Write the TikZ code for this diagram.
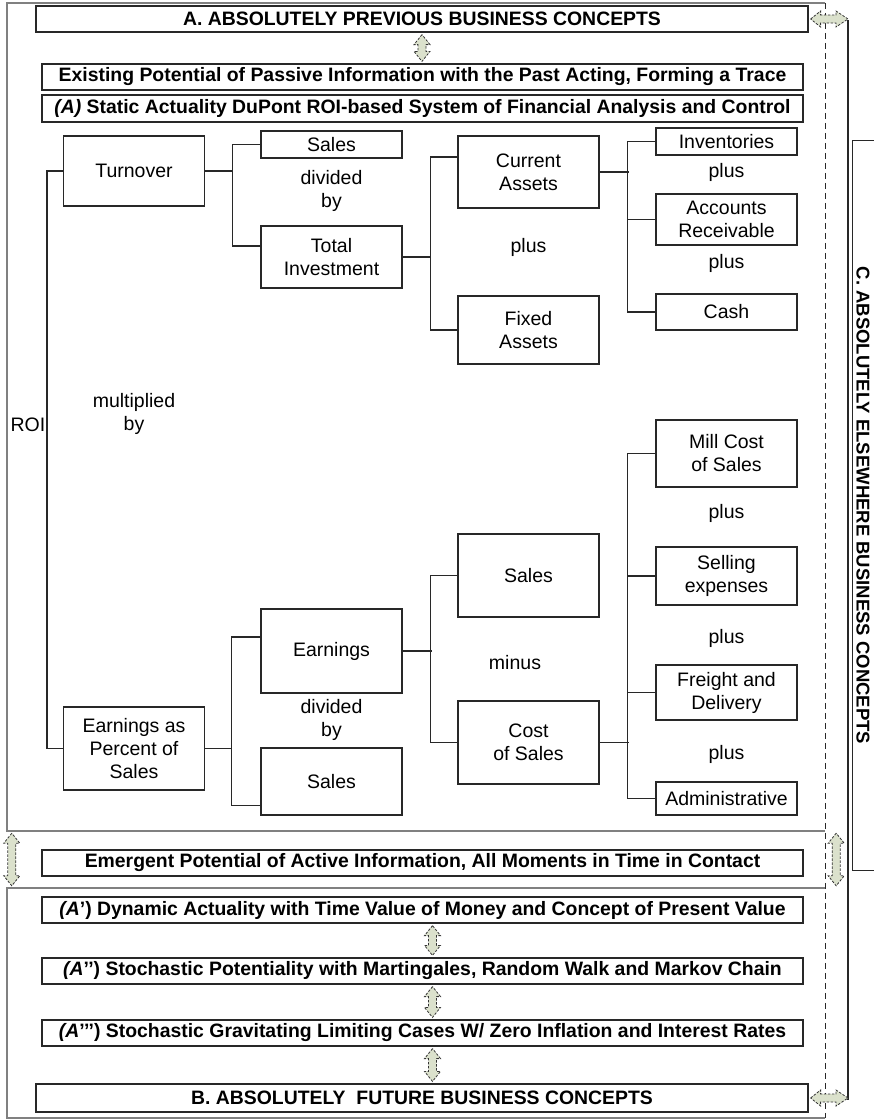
\documentclass[tikz,border=0pt]{standalone}
\usepackage{fontspec}
\setmainfont{Liberation Sans}
\usepackage{xcolor}
\usepackage{tikz}
\usetikzlibrary{positioning,calc}
\definecolor{cframe}{RGB}{128,128,128}
\definecolor{cline}{RGB}{40,40,40}
\definecolor{cfat}{RGB}{219,225,204}

% vertical fat double arrow between two points (upper, lower)
\newcommand{\fatv}[2]{%
  \draw[fat] let \p1=#1, \p2=#2 in
    (\x1,{\y1-2pt}) -- ({\x1-8pt},{\y1-12pt}) -- ({\x1-4pt},{\y1-12pt})
    -- ({\x1-4pt},{\y2+12pt}) -- ({\x1-8pt},{\y2+12pt}) -- (\x1,{\y2+2pt})
    -- ({\x1+8pt},{\y2+12pt}) -- ({\x1+4pt},{\y2+12pt})
    -- ({\x1+4pt},{\y1-12pt}) -- ({\x1+8pt},{\y1-12pt}) -- cycle;}
% horizontal fat double arrow between two points (left, right)
\newcommand{\fath}[2]{%
  \draw[fat] let \p1=#1, \p2=#2 in
    ({\x1+2pt},\y1) -- ({\x1+12pt},{\y1+8pt}) -- ({\x1+12pt},{\y1+4pt})
    -- ({\x2-12pt},{\y1+4pt}) -- ({\x2-12pt},{\y1+8pt}) -- (\x2,\y1)
    -- ({\x2-12pt},{\y1-8pt}) -- ({\x2-12pt},{\y1-4pt})
    -- ({\x1+12pt},{\y1-4pt}) -- ({\x1+12pt},{\y1-8pt}) -- cycle;}

\begin{document}
\begin{tikzpicture}[
  x=1pt,y=-1pt,
  font=\fontsize{19.5}{23}\selectfont,
  blk/.style={draw=cline,line width=1.1pt,align=center,inner sep=0pt,minimum width=141pt},
  hdr/.style={draw=cline,line width=1.2pt,inner sep=0pt,minimum width=761pt,minimum height=26pt,
              font=\bfseries\fontsize{19.4}{22}\selectfont},
  ttl/.style={hdr,minimum width=772pt},
  lab/.style={align=center,inner sep=0pt},
  link/.style={cline,line width=1.1pt},
  frm/.style={cframe,line width=1.6pt},
  dashln/.style={cline,line width=1pt,dash pattern=on 6pt off 4pt},
  fat/.style={draw=black!80,dash pattern=on 2.5pt off 1.5pt,line width=0.8pt,fill=cfat},
  sect/.style={minimum width=818pt,inner sep=0pt},
]
\useasboundingbox (0,0) rectangle (873,1119);

% =========== the two section frames and the side line ======================
\node[sect,minimum height=828pt] (fA) at (416,417) {};
\node[sect,minimum height=230pt] (fB) at (416,1003) {};
\draw[frm] (fA.north east) -- (fA.north west) -- (fA.south west) -- (fA.south east);
\draw[frm] (fB.north east) -- (fB.north west) -- (fB.south west) -- (fB.south east);
\draw[dashln] (fA.north east) -- (fB.south east);

\node[ttl,font=\bfseries\fontsize{18.5}{22}\selectfont,rotate=-90,minimum width=729pt,minimum height=20pt,draw=none]
  (secC) at (863,505.5) {C. ABSOLUTELY ELSEWHERE BUSINESS CONCEPTS};
\draw[link] (secC.north west) -- (secC.south west) -- (secC.south east) -- (secC.north east);

% =========== headers ========================================================
\node[ttl] (hA) at (422,19) {A. ABSOLUTELY PREVIOUS BUSINESS CONCEPTS};
\node[hdr] (hExist) at (422.5,77) {Existing Potential of Passive Information with the Past Acting, Forming a Trace};
\node[hdr,minimum height=27pt] (hStatic) at (422.5,108.5) {\textit{(A)} Static Actuality DuPont ROI-based System of Financial Analysis and Control};
\node[hdr] (hEmerg) at (422.5,863) {Emergent Potential of Active Information, All Moments in Time in Contact};
\node[hdr] (hDyn) at (422.5,910) {\textit{(A}\textquoteright) Dynamic Actuality with Time Value of Money and Concept of Present Value};
\node[hdr] (hStoch) at (422.5,971) {\textit{(A}\textquoteright\textquoteright) Stochastic Potentiality with Martingales, Random Walk and Markov Chain};
\node[hdr] (hGrav) at (422.5,1033) {\textit{(A}\textquoteright\textquoteright\textquoteright) Stochastic Gravitating Limiting Cases W/ Zero Inflation and Interest Rates};
\node[ttl,minimum height=28pt] (hB) at (422,1098) {B. ABSOLUTELY~ FUTURE BUSINESS CONCEPTS};

\coordinate (rTop) at (848,20);
\coordinate (rBot) at (848,1100);
\draw[link] (rTop) -- (rBot);

% =========== DuPont tree: turnover branch ===================================
\node[blk,minimum height=70pt] (turn)   at (134,171)   {Turnover};
\node[blk,minimum height=27pt] (salesT) at (331.5,144.5) {Sales};
\node[lab]                     (divT)   at (331.5,191) {divided\\by};
\node[blk,minimum height=62pt] (totInv) at (331.5,257) {Total\\Investment};
\node[blk,minimum height=72pt] (curA)   at (528.5,172) {Current\\Assets};
\node[lab]                     (plusA)  at (528.5,247) {plus};
\node[blk,minimum height=68pt] (fixA)   at (528.5,330) {Fixed\\Assets};
\node[blk,minimum height=27pt] (inv)    at (726.5,141.5) {Inventories};
\node[blk,minimum height=51pt] (acr)    at (726.5,219.5) {Accounts\\Receivable};
\node[blk,minimum height=36pt] (cash)   at (726.5,312) {Cash};

% =========== DuPont tree: earnings branch ===================================
\node[lab] (roi)  at (28,425)  {ROI};
\node[lab] (mult) at (134,414) {multiplied\\by};
\node[blk,minimum height=83pt] (eap)    at (134,748.5) {Earnings as\\Percent of\\Sales};
\node[blk,minimum height=84pt] (earn)   at (331.5,651) {Earnings};
\node[lab]                     (divE)   at (331.5,720) {divided\\by};
\node[blk,minimum height=67pt] (salesB) at (331.5,781.5) {Sales};
\node[blk,minimum height=83pt] (salesM) at (528.5,575.5) {Sales};
\node[lab]                     (minus)  at (515,663) {minus};
\node[blk,minimum height=83pt] (cost)   at (528.5,742.5) {Cost\\of Sales};
\node[blk,minimum height=67pt] (millc)  at (726.5,453.5) {Mill Cost\\of Sales};
\node[blk,minimum height=58pt] (sell)   at (726.5,576) {Selling\\expenses};
\node[blk,minimum height=55pt] (frei)   at (726.5,692.5) {Freight and\\Delivery};
\node[blk,minimum height=33pt] (admin)  at (726.5,798.5) {Administrative};
\foreach \y/\n in {172/pl1,263/pl2,513/pl3,638/pl4,754/pl5}
  \node[lab] (\n) at (726.5,\y) {plus};

% =========== brackets =======================================================
\draw[link] (turn.west) -- ++(-16,0) |- (eap.west);
\draw[link] (turn.east) -- ++(28,0);
\draw[link] (salesT.west) -- ++(-28,0) |- ($(totInv.west)+(0,-11)$);
\draw[link] (totInv.east) -- ++(28,0);
\draw[link] ($(curA.west)+(0,-15)$) -- ++(-27,0) |- (fixA.west);
\draw[link] (curA.east) -- ++(29,0);
\draw[link] (inv.west) -- ++(-28,0) |- (cash.west);
\draw[link] (acr.west) -- ++(-28,0);
\draw[link] (eap.east) -- ++(27,0);
\draw[link] ($(earn.west)+(0,-14)$) -- ++(-29,0) |- ($(salesB.west)+(0,24)$);
\draw[link] (earn.east) -- ++(29,0);
\draw[link] (salesM.west) -- ++(-27,0) |- (cost.west);
\draw[link] (cost.east) -- ++(29,0);
\draw[link] (millc.west) -- ++(-28,0) |- (admin.west);
\draw[link] (sell.west) -- ++(-28,0);
\draw[link] (frei.west) -- ++(-28,0);

% =========== fat double arrows ==============================================
\fatv{(hA.south)}{(hExist.north)}
\fatv{($(hDyn.south)+(10,0)$)}{($(hStoch.north)+(10,0)$)}
\fatv{($(hStoch.south)+(10,0)$)}{($(hGrav.north)+(10,0)$)}
\fatv{($(hGrav.south)+(10,0)$)}{($(hB.north)+(10,0)$)}
\fatv{($(fA.south west)+(5,0)$)}{($(fB.north west)+(5,0)$)}
\fatv{($(fA.south east)+(11,0)$)}{($(fB.north east)+(11,0)$)}
\fath{(hA.east)}{(rTop)}
\fath{(hB.east)}{(rBot)}

\end{tikzpicture}
\end{document}
